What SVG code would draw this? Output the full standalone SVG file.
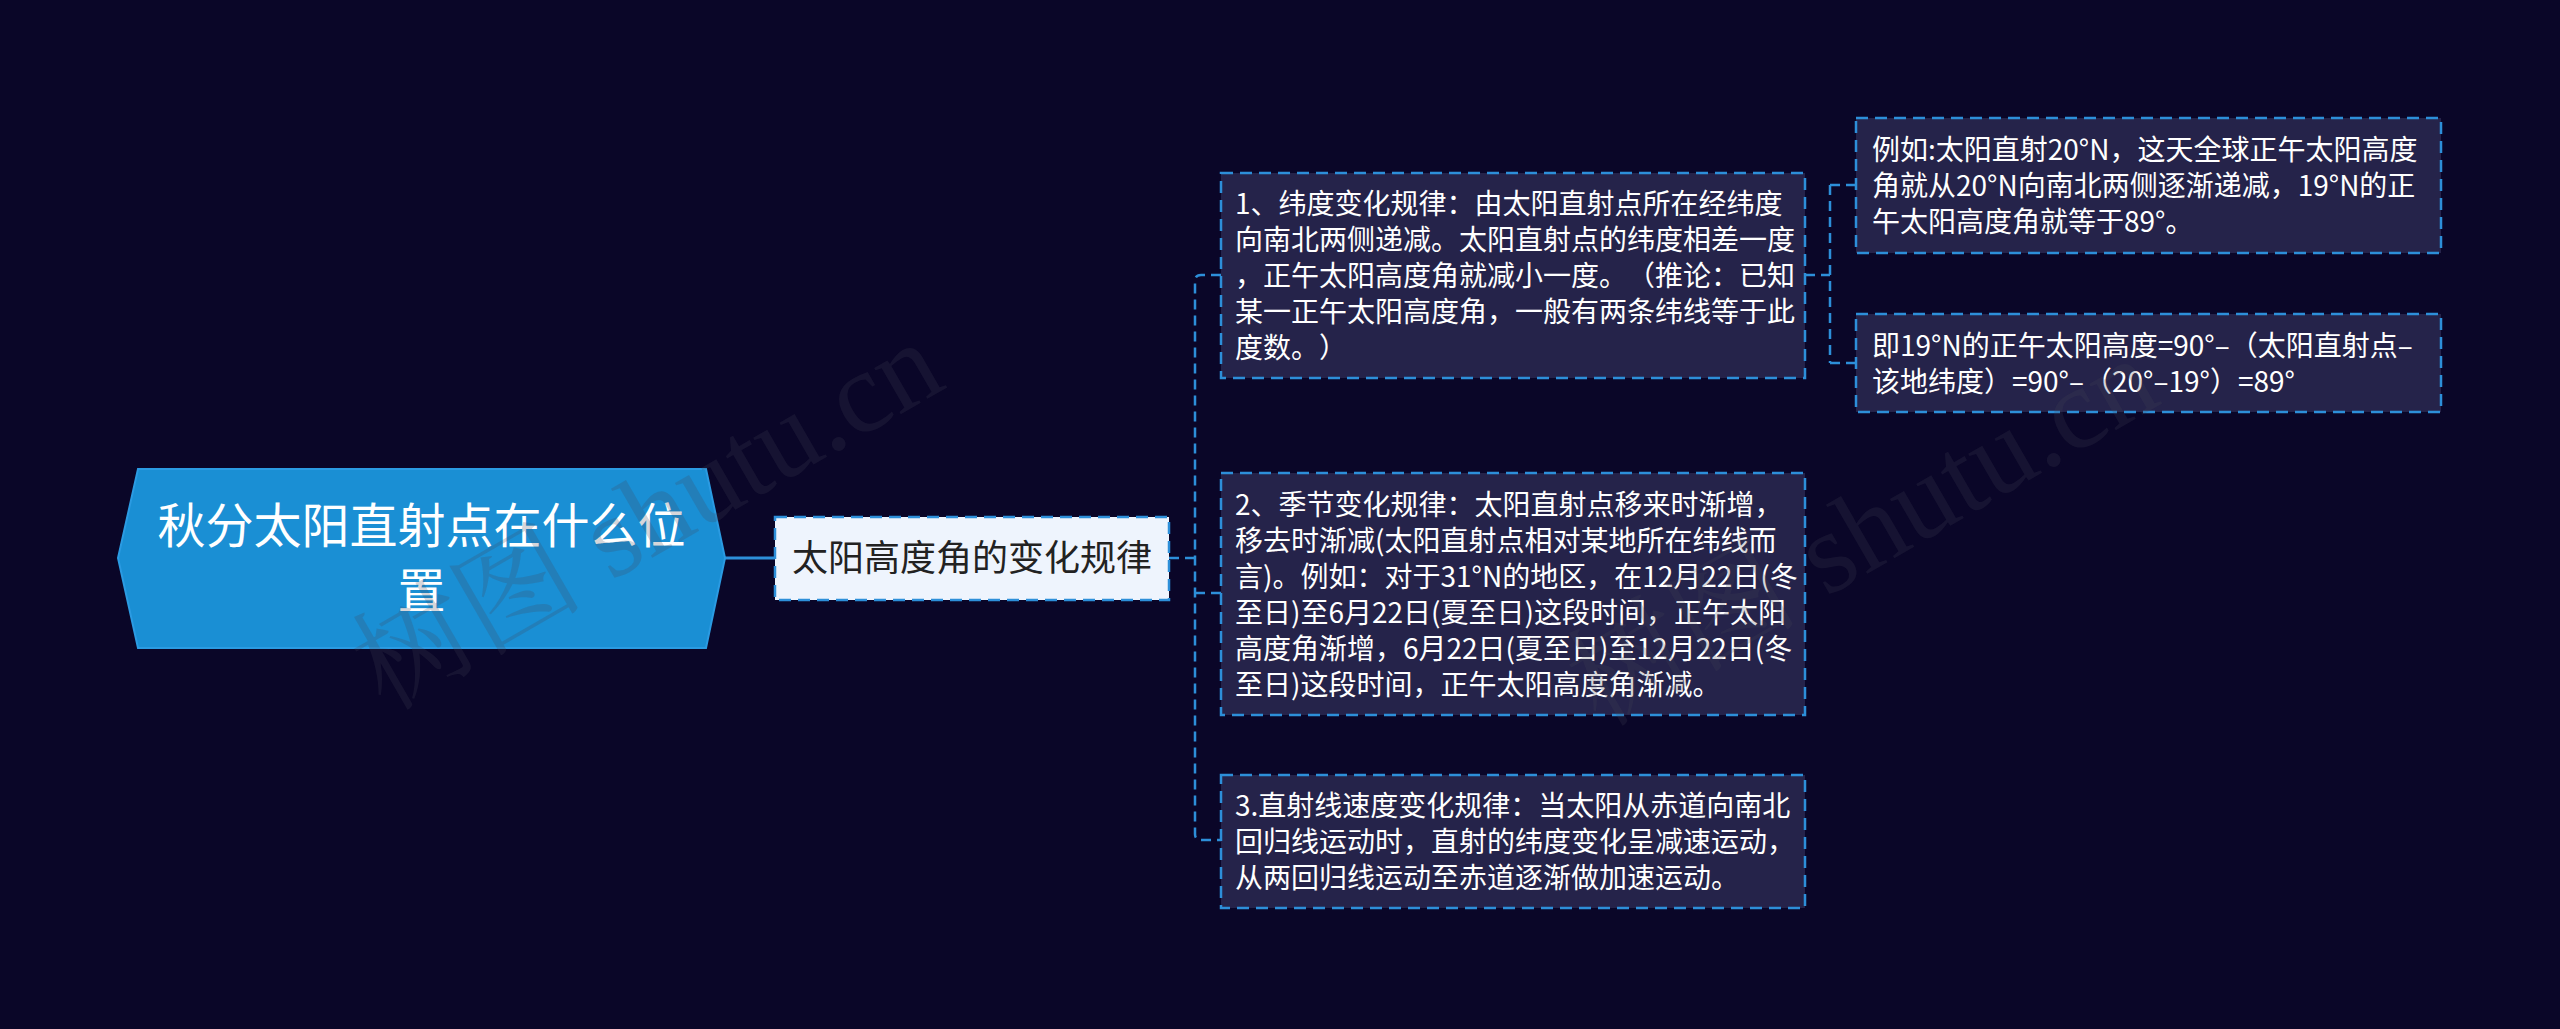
<svg xmlns="http://www.w3.org/2000/svg" width="2560" height="1029" viewBox="0 0 2560 1029">
<style>
.bg{fill:#0a0628}
.conn{fill:none;stroke:#2d8fd9;stroke-width:2.5;stroke-dasharray:10 6}
.solid{fill:none;stroke:#2d8fd9;stroke-width:3}
.box{fill:#25234a;stroke:#2d8fd9;stroke-width:2.5;stroke-dasharray:12 7}
.sub{fill:#eef4fd;stroke:#2d8fd9;stroke-width:2.5;stroke-dasharray:12 7}
text{text-spacing-trim:space-all;font-kerning:none}
.t{font-family:"Noto Sans CJK SC","Noto Sans",sans-serif;font-size:28px;fill:#ffffff}
.rt{font-family:"Noto Sans CJK SC","Noto Sans",sans-serif;font-size:48px;fill:#ffffff;text-anchor:middle}
.st{font-family:"Noto Sans CJK SC","Noto Sans",sans-serif;font-size:36px;fill:#222222;text-anchor:middle}
.wm{font-family:"Liberation Serif","Noto Serif CJK SC","Noto Sans CJK SC",serif;font-size:116px;fill:#434355;fill-opacity:0.22}
</style>
<rect class="bg" x="0" y="0" width="2560" height="1029"/>
<g id="connectors">
<path class="solid" d="M725,558 H775"/>
<path class="conn" d="M1169,558 H1195"/>
<path class="conn" d="M1221,275 H1201 Q1195,275 1195,281 V834 Q1195,840 1201,840 H1221"/>
<path class="conn" d="M1195,593 H1221"/>
<path class="conn" d="M1805,275 H1830"/>
<path class="conn" d="M1830,185 V363"/>
<path class="conn" d="M1830,185 H1856"/>
<path class="conn" d="M1830,363 H1856"/>
</g>
<g id="root">
<polygon points="118,558 138,469 706,469 725,558 706,648 138,648" fill="#1a8fd4" stroke="#2b9be2" stroke-width="2"/>
<text class="rt" x="421.5" y="543">秋分太阳直射点在什么位</text>
<text class="rt" x="421.5" y="608">置</text>
</g>
<g id="sub">
<rect class="sub" x="775" y="517" width="394" height="83"/>
<text class="st" x="972" y="571">太阳高度角的变化规律</text>
</g>
<g id="box1">
<rect class="box" x="1221" y="173" width="584" height="205"/>
<text class="t" x="1235" y="214">1、纬度变化规律：由太阳直射点所在经纬度</text>
<text class="t" x="1235" y="250">向南北两侧递减。太阳直射点的纬度相差一度</text>
<text class="t" x="1235" y="286">，正午太阳高度角就减小一度。（推论：已知</text>
<text class="t" x="1235" y="322">某一正午太阳高度角，一般有两条纬线等于此</text>
<text class="t" x="1235" y="358">度数。）</text>
</g>
<g id="box2">
<rect class="box" x="1221" y="473" width="584" height="242"/>
<text class="t" x="1235" y="515">2、季节变化规律：太阳直射点移来时渐增，</text>
<text class="t" x="1235" y="551">移去时渐减(太阳直射点相对某地所在纬线而</text>
<text class="t" x="1235" y="587">言)。例如：对于31°N的地区，在12月22日(冬</text>
<text class="t" x="1235" y="623">至日)至6月22日(夏至日)这段时间，正午太阳</text>
<text class="t" x="1235" y="659">高度角渐增，6月22日(夏至日)至12月22日(冬</text>
<text class="t" x="1235" y="695">至日)这段时间，正午太阳高度角渐减。</text>
</g>
<g id="box3">
<rect class="box" x="1221" y="775" width="584" height="133"/>
<text class="t" x="1235" y="816">3.直射线速度变化规律：当太阳从赤道向南北</text>
<text class="t" x="1235" y="852">回归线运动时，直射的纬度变化呈减速运动，</text>
<text class="t" x="1235" y="888">从两回归线运动至赤道逐渐做加速运动。</text>
</g>
<g id="box4">
<rect class="box" x="1856" y="118" width="585" height="135"/>
<text class="t" x="1872" y="160">例如:太阳直射20°N，这天全球正午太阳高度</text>
<text class="t" x="1872" y="196">角就从20°N向南北两侧逐渐递减，19°N的正</text>
<text class="t" x="1872" y="232">午太阳高度角就等于89°。</text>
</g>
<g id="box5">
<rect class="box" x="1856" y="314" width="585" height="98"/>
<text class="t" x="1872" y="356">即19°N的正午太阳高度=90°–（太阳直射点–</text>
<text class="t" x="1872" y="392">该地纬度）=90°–（20°–19°）=89°</text>
</g>
<g id="watermark">
<text class="wm" transform="translate(385,712) rotate(-30)">树图 shutu.cn</text>
<text class="wm" transform="translate(1600,728) rotate(-30)">树图 shutu.cn</text>
</g>
</svg>
